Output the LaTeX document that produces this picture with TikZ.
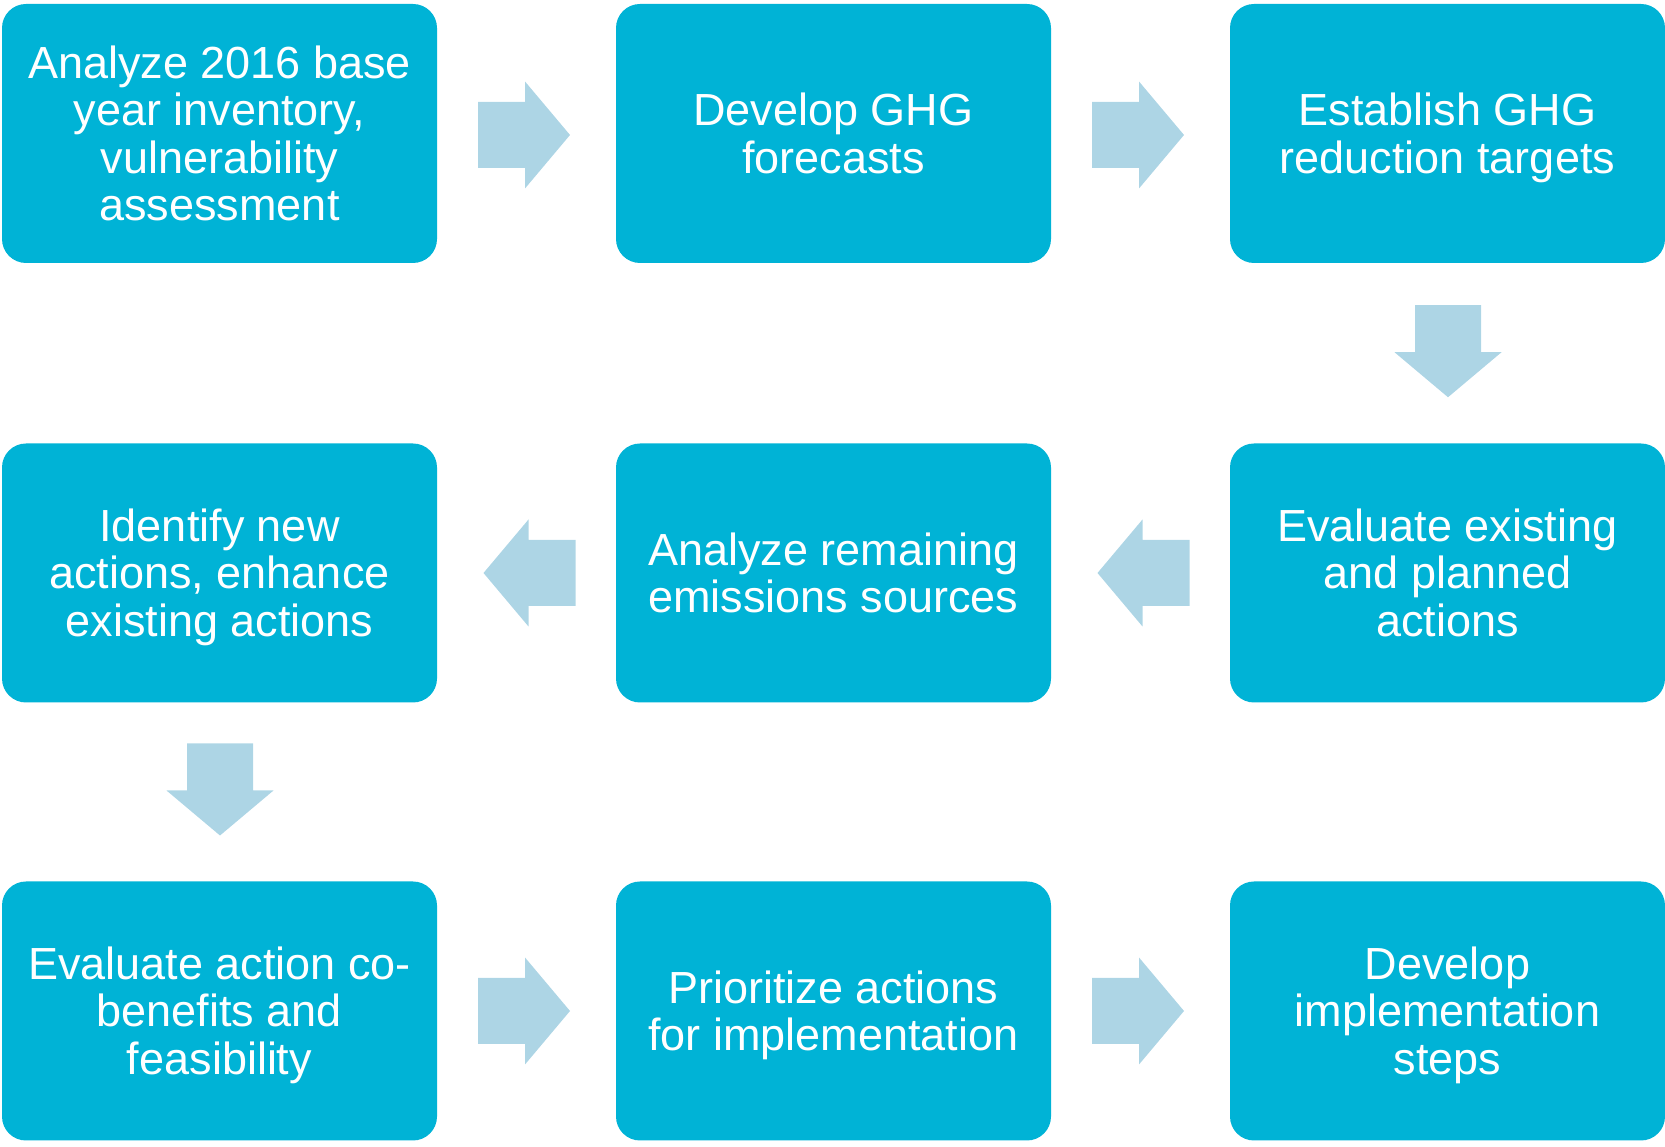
\documentclass[tikz,border=0pt]{standalone}
\usepackage{fontspec}
\setmainfont{Liberation Sans}
\usetikzlibrary{calc}
\definecolor{boxblue}{RGB}{0,179,214}
\definecolor{arrowblue}{RGB}{173,213,229}
\newcommand{\boxtext}[1]{\rule{0pt}{46pt}#1\strut}
\begin{document}
\begin{tikzpicture}[x=1pt,y=1pt,
  stepbox/.style={fill=boxblue, rounded corners=24pt, minimum width=435pt, minimum height=259pt,
    inner sep=0pt, align=center, text=white, font=\fontsize{45}{47.3}\selectfont},
  blockarrow/.style={fill=arrowblue}]
\useasboundingbox (0,0) rectangle (1665,1147);
% boxes
\node[stepbox] (b1) at (219.5,1013.5) {\boxtext{Analyze 2016 base\\year inventory,\\vulnerability\\assessment}};
\node[stepbox] (b2) at (833.5,1013.5) {\boxtext{Develop GHG\\forecasts}};
\node[stepbox] (b3) at (1447.5,1013.5) {\boxtext{Establish GHG\\reduction targets}};
\node[stepbox] (b4) at (219.5,574) {\boxtext{Identify new\\actions, enhance\\existing actions}};
\node[stepbox] (b5) at (833.5,574) {\boxtext{Analyze remaining\\emissions sources}};
\node[stepbox] (b6) at (1447.5,574) {\boxtext{Evaluate existing\\and planned\\actions}};
\node[stepbox] (b7) at (219.5,136) {\boxtext{Evaluate action co-\\benefits and\\feasibility}};
\node[stepbox] (b8) at (833.5,136) {\boxtext{Prioritize actions\\for implementation}};
\node[stepbox] (b9) at (1447.5,136) {\boxtext{Develop\\implementation\\steps}};
% block arrows
\newcommand{\blockarrowpath}{(-46,33) -- (1,33) -- (1,53.5) -- (46,0) -- (1,-53.5) -- (1,-33) -- (-46,-33) -- cycle}
\fill[blockarrow, shift={($(b1.east)!0.5!(b2.west)+(-2.5,-1.5)$)}] \blockarrowpath;
\fill[blockarrow, shift={($(b2.east)!0.5!(b3.west)+(-2.5,-1.5)$)}] \blockarrowpath;
\fill[blockarrow, shift={($(b3.south)!0.5!(b6.north)+(0.5,2)$)}, rotate=-90] \blockarrowpath;
\fill[blockarrow, shift={($(b6.west)!0.5!(b5.east)+(3,0)$)}, rotate=180] \blockarrowpath;
\fill[blockarrow, shift={($(b5.west)!0.5!(b4.east)+(3,0)$)}, rotate=180] \blockarrowpath;
\fill[blockarrow, shift={($(b4.south)!0.5!(b7.north)+(0.5,2.5)$)}, rotate=-90] \blockarrowpath;
\fill[blockarrow, shift={($(b7.east)!0.5!(b8.west)+(-2.5,0)$)}] \blockarrowpath;
\fill[blockarrow, shift={($(b8.east)!0.5!(b9.west)+(-2.5,0)$)}] \blockarrowpath;
\end{tikzpicture}
\end{document}
